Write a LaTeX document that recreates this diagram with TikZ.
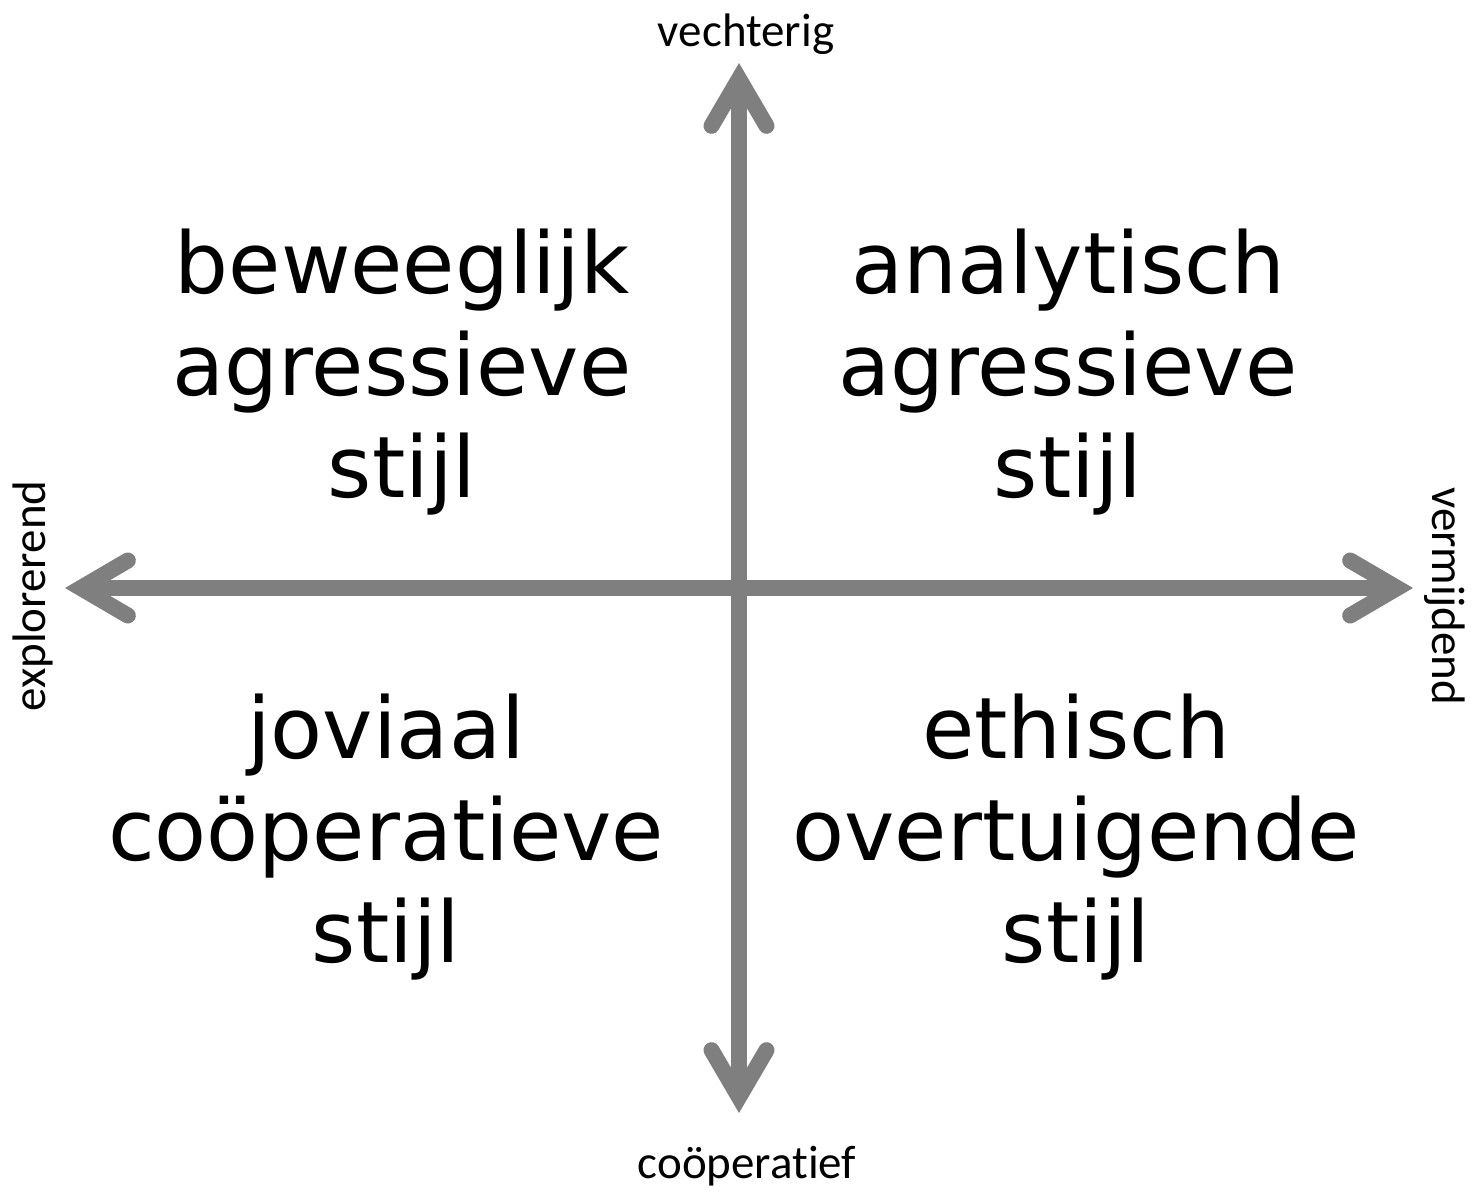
\documentclass[tikz,border=0pt]{standalone}
\usepackage{fontspec}
\setmainfont{Carlito}[Ligatures=NoCommon]
\newfontfamily\quadfont{DejaVu Sans}
\usetikzlibrary{arrows.meta}
\definecolor{axisgray}{RGB}{127,127,127}

\tikzset{
  axis/.style={draw=axisgray, line width=16pt,
    >={Straight Barb[length=47pt,width=55pt,line cap=round,line join=miter]}, <->},
}

\begin{document}
\begin{tikzpicture}[x=1pt,y=-1pt]
  \useasboundingbox (0,0) rectangle (1474,1191);

  % axis ends
  \coordinate (w) at (65,588);
  \coordinate (e) at (1413,588);
  \coordinate (s) at (739,1113);
  \coordinate (n) at (739,63);

  \draw[axis] (w) -- (e);
  \draw[axis] (s) -- (n);

  \begin{scope}[every node/.style={font=\fontsize{47}{56}\selectfont, inner sep=0pt, anchor=base}]
    \node (vechterig)   at (746,46)   {vechterig};
    \node (cooperatief) at (747,1178) {coöperatief};
    \node[rotate=90]  (explorerend) at (45,596)   {explorerend};
    \node[rotate=-90] (vermijdend)  at (1432,596) {vermijdend};
  \end{scope}

  % anchor base = baseline of the last line
  \begin{scope}[every node/.style={font=\quadfont\fontsize{85}{102}\selectfont,
      align=center, inner sep=0pt, anchor=base}]
    \node (beweeglijk) at (402,497)  {beweeglijk\\agressieve\\stijl};
    \node (analytisch) at (1068,497) {analytisch\\agressieve\\stijl};
    \node (joviaal)    at (386,962)  {joviaal\\coöperatieve\\stijl};
    \node (ethisch)    at (1076,962) {ethisch\\overtuigende\\stijl};
  \end{scope}
\end{tikzpicture}
\end{document}
